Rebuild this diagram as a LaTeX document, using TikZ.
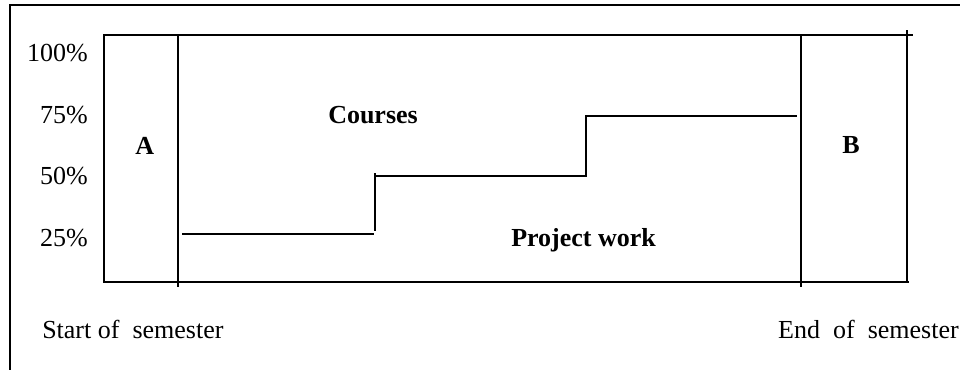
\documentclass[tikz,border=0pt]{standalone}
\usepackage{fontspec}
\setmainfont{Liberation Serif}
\begin{document}
\begin{tikzpicture}[x=0.75pt,y=-0.75pt,
  rule/.style={line width=1.9pt,line cap=rect},
  pct/.style={anchor=base east,inner sep=0pt},
  lbl/.style={anchor=base west,inner sep=0pt},
  bold/.style={anchor=base west,inner sep=0pt,font=\fontsize{19.5}{23}\selectfont\bfseries}]
\useasboundingbox (0,0) rectangle (960,369);
\fontsize{19.5}{23}\selectfont
% outer frame (left and top edges)
\draw[rule] (10,369) -- (10,5) -- (960,5);
% chart box
\draw[rule] (912,35) -- (104,35) -- (104,282) -- (908,282);
\draw[rule] (907,31) -- (907,282);
% phase separators
\draw[rule] (178,35) -- (178,286);
\draw[rule] (801,35) -- (801,286);
% project share steps
\draw[rule] (183,234) -- (373,234);
\draw[rule] (375,174) -- (375,230);
\draw[rule] (377,176) -- (585,176);
\draw[rule] (586,118) -- (586,176);
\draw[rule] (586,116) -- (796,116);
% axis labels
\node[pct] (p100) at (88,61) {100\%};
\node[pct] (p75) at (88,123) {75\%};
\node[pct] (p50) at (88,184) {50\%};
\node[pct] (p25) at (88,246) {25\%};
% region labels
\node[bold] (a) at (135,154) {A};
\node[bold] (b) at (842,153) {B};
\node[bold] (courses) at (328,123) {Courses};
\node[bold] (project) at (511,246) {Project work};
% time labels
\node[lbl] (start) at (42,338) {Start of~~semester};
\node[anchor=base east,inner sep=0pt] (end) at (959,338) {End~~of~~semester};
\end{tikzpicture}
\end{document}
